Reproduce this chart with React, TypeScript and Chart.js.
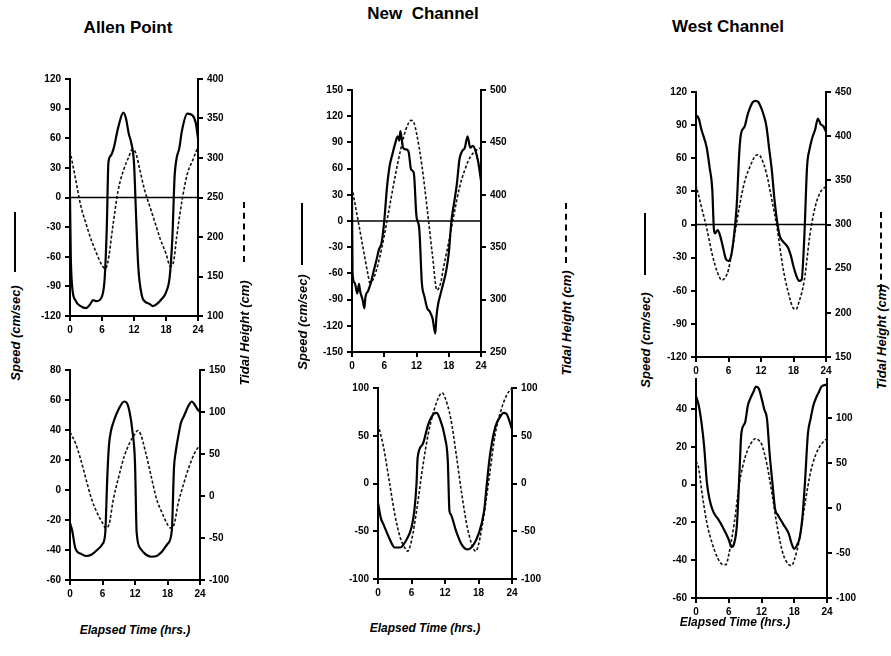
import React, { useEffect, useRef } from 'react';
import { Chart, registerables } from 'chart.js';
Chart.register(...registerables);

// ---------- DATA ----------
const xTicks = [0, 6, 12, 18, 24];
const zeroHours = [0, 24];
const zeroValues = [0, 0];

// Allen Point (top)
const allenTopSpeedHours = [0, 0.15, 0.4, 1, 2, 3, 3.8, 4.3, 5, 6, 6.5, 6.9, 7.2, 7.6, 8.2, 9, 10, 10.5, 11, 11.5, 12, 12.4, 12.8, 13.5, 14, 15, 15.5, 16, 17, 18, 18.7, 19.2, 19.6, 20, 20.5, 21, 22, 23, 23.6, 24];
const allenTopSpeed = [0, -60, -90, -104, -110, -112, -108, -104, -105, -100, -82, -30, 35, 42, 50, 70, 86, 80, 65, 55, 35, -20, -70, -100, -105, -108, -110, -109, -104, -96, -80, -40, 20, 40, 50, 68, 85, 83, 75, 60];
const allenTopTideHours = [0, 1, 2, 3, 4, 5, 6, 6.6, 7.1, 8, 9, 10, 11, 11.7, 12.3, 13, 14, 15, 16, 17, 18, 18.8, 19.4, 20, 21, 22, 23, 24];
const allenTopTide = [309, 275, 240, 217, 196, 179, 164, 160, 168, 212, 258, 284, 301, 311, 307, 288, 259, 238, 217, 196, 179, 163, 168, 200, 246, 280, 297, 314];

// Allen Point (bottom)
const allenBotSpeedHours = [0, 0.4, 1, 2, 3, 4, 5, 6, 6.5, 6.9, 7.2, 7.6, 8, 9, 10, 10.5, 11, 11.5, 12, 12.3, 13, 14, 15, 16, 17, 18, 18.8, 19.2, 19.5, 20, 20.5, 21, 22, 22.5, 23, 23.5, 24];
const allenBotSpeed = [-22, -27, -39, -42.5, -44, -43, -40, -36, -29, 10, 30, 40, 45, 54, 59, 58, 52, 40, 18, -28, -39, -43, -44.5, -44, -41, -36, -27, 15, 25, 36, 45, 49, 57, 59, 57, 54, 52];
const allenBotTideHours = [0, 1, 2, 3, 4, 5, 6, 6.6, 7.2, 8, 9, 10, 11, 12, 12.5, 13, 14, 15, 16, 17, 18, 18.5, 19.1, 20, 21, 22, 23, 24];
const allenBotTide = [76, 63, 43, 19, -4, -20, -32, -38, -34, -4, 23, 47, 63, 74, 78, 74, 51, 23, -4, -20, -34, -38, -36, -8, 15, 35, 51, 61];

// New Channel (top)
const newTopSpeedHours = [0, 0.1, 0.5, 1, 1.3, 1.5, 2, 2.3, 2.5, 3, 3.5, 4, 4.5, 5, 5.5, 6, 6.5, 7, 7.5, 8, 8.5, 8.8, 9, 9.5, 10, 10.5, 11, 11.5, 12, 12.5, 13, 13.5, 14, 14.5, 15, 15.5, 15.7, 16, 16.5, 17, 17.5, 18, 18.5, 19, 19.5, 20, 20.5, 21, 21.5, 22, 22.5, 23, 23.5, 24];
const newTopSpeed = [30, -60, -71, -83, -72, -80, -91, -100, -87, -80, -71, -58, -46, -33, -25, 0, 38, 63, 76, 88, 97, 92, 103, 84, 82, 80, 59, 55, 5, -8, -71, -87, -100, -104, -112, -129, -110, -96, -83, -71, -58, -37, 0, 21, 42, 71, 80, 84, 97, 84, 86, 80, 67, 46];
const newTopTideHours = [0, 1, 2, 3, 3.3, 4, 5, 6, 7, 8, 9, 10, 11, 11.5, 12, 13, 14, 15, 15.8, 16.5, 17, 18, 19, 20, 21, 22, 23, 24];
const newTopTide = [407, 379, 351, 323, 316, 320, 337, 361, 389, 417, 442, 462, 471, 469, 459, 428, 386, 341, 309, 316, 330, 355, 382, 407, 424, 436, 442, 445];

// New Channel (bottom)
const newBotSpeedHours = [0, 0.5, 1, 2, 3, 4, 5, 6, 6.5, 6.9, 7.1, 8, 9, 10, 10.5, 11, 12, 12.5, 12.8, 13, 14, 15, 16, 17, 18, 19, 19.5, 20, 21, 22, 22.5, 23, 24];
const newBotSpeed = [-20, -36, -43, -57, -67, -67, -60, -46, -29, 0, 27, 41, 62, 73, 74, 69, 48, 24, -29, -32, -50, -64, -69, -65, -53, -29, 0, 27, 59, 71, 74, 73, 57];
const newBotTideHours = [0, 1, 2, 3, 4, 5, 5.3, 6, 7, 8, 9, 10, 11, 11.5, 12, 13, 14, 15, 16, 17, 17.5, 18, 19, 20, 21, 22, 23, 24];
const newBotTide = [62, 38, 3, -32, -57, -69, -71, -60, -25, 17, 52, 76, 92, 95, 90, 69, 31, -11, -46, -67, -71, -64, -32, 10, 52, 76, 92, 100];

// West Channel (top)
const westTopSpeedHours = [0, 0.5, 1, 2, 2.5, 3, 3.3, 3.5, 4, 4.5, 5, 5.5, 6, 6.5, 7, 7.5, 8, 8.3, 9, 9.5, 10, 10.5, 11, 11.5, 12, 12.5, 13, 13.5, 14, 14.5, 15, 15.5, 16, 17, 17.5, 18, 18.5, 19, 19.5, 20, 20.5, 21, 21.5, 22, 22.5, 23, 23.5, 24];
const westTopSpeed = [99, 96, 86, 69, 52, 32, -4, -8, -5, -11, -21, -31, -33, -28, -11, 16, 66, 82, 89, 99, 106, 111, 112, 111, 106, 99, 89, 69, 49, 22, 2, -11, -15, -21, -28, -38, -46, -51, -50, -11, 52, 69, 79, 86, 96, 91, 89, 84];
const westTopTideHours = [0, 1, 2, 3, 4, 4.8, 5.5, 6, 7, 8, 9, 10, 11, 11.5, 12, 13, 14, 15, 16, 17, 18, 18.5, 19, 20, 21, 22, 23, 24];
const westTopTide = [345, 320, 295, 266, 245, 237, 241, 249, 283, 320, 349, 366, 378, 379, 376, 358, 328, 295, 253, 224, 205, 204, 212, 237, 287, 320, 337, 343];

// West Channel (bottom)
const westBotSpeedHours = [0, 0.5, 1, 1.5, 2, 2.5, 3, 3.5, 4, 5, 6, 6.5, 7, 7.5, 8, 8.3, 9, 9.5, 10, 10.5, 11, 11.5, 12, 12.5, 13, 13.5, 14, 14.5, 15, 16, 17, 17.5, 18, 18.5, 19, 19.5, 20, 20.5, 21, 21.5, 22, 22.5, 23, 24];
const westBotSpeed = [47, 42, 33, 20, 1, -8, -13, -16, -18, -23, -29, -33, -31, -21, 9, 27, 33, 42, 46, 49, 52, 51, 46, 40, 35, 16, 1, -13, -16, -21, -26, -31, -34, -32, -28, -17, 3, 27, 35, 42, 46, 49, 52, 53];
const westBotTideHours = [0, 0.5, 1, 2, 3, 4, 5, 5.5, 6, 7, 8, 9, 10, 11, 11.5, 12, 13, 14, 15, 16, 17, 17.5, 18, 19, 20, 21, 22, 23, 24];
const westBotTide = [52, 44, 21, -17, -40, -56, -63, -63, -52, -17, 29, 56, 71, 77, 75, 71, 48, 13, -25, -52, -63, -64, -58, -33, 6, 40, 60, 71, 77];

// ---------- LAYOUT ----------
const L = 40, R = 40, T = 8, B = 22;
const FONT = '"Liberation Sans", Arial, sans-serif';

type Panel = {
  rect: { l: number; t: number; r: number; b: number };
  sH: number[]; sV: number[]; tH: number[]; tV: number[];
  yMin: number; yMax: number; yStep: number;
  y2Min: number; y2Max: number; y2Step: number;
  zero: boolean;
};

const panels: Panel[] = [
  { rect: { l: 70, t: 77, r: 198, b: 316 }, sH: allenTopSpeedHours, sV: allenTopSpeed, tH: allenTopTideHours, tV: allenTopTide, yMin: -120, yMax: 120, yStep: 30, y2Min: 100, y2Max: 400, y2Step: 50, zero: true },
  { rect: { l: 70, t: 368, r: 200, b: 580 }, sH: allenBotSpeedHours, sV: allenBotSpeed, tH: allenBotTideHours, tV: allenBotTide, yMin: -60, yMax: 80, yStep: 20, y2Min: -100, y2Max: 150, y2Step: 50, zero: false },
  { rect: { l: 352, t: 88, r: 481, b: 352 }, sH: newTopSpeedHours, sV: newTopSpeed, tH: newTopTideHours, tV: newTopTide, yMin: -150, yMax: 150, yStep: 30, y2Min: 250, y2Max: 500, y2Step: 50, zero: true },
  { rect: { l: 378, t: 386, r: 512, b: 579 }, sH: newBotSpeedHours, sV: newBotSpeed, tH: newBotTideHours, tV: newBotTide, yMin: -100, yMax: 100, yStep: 50, y2Min: -100, y2Max: 100, y2Step: 50, zero: false },
  { rect: { l: 696, t: 90, r: 826, b: 357 }, sH: westTopSpeedHours, sV: westTopSpeed, tH: westTopTideHours, tV: westTopTide, yMin: -120, yMax: 120, yStep: 30, y2Min: 150, y2Max: 450, y2Step: 50, zero: true },
  { rect: { l: 696, t: 377, r: 827, b: 598 }, sH: westBotSpeedHours, sV: westBotSpeed, tH: westBotTideHours, tV: westBotTide, yMin: -60, yMax: 56, yStep: 20, y2Min: -100, y2Max: 143, y2Step: 50, zero: false },
];

const zip = (xs: number[], ys: number[]) => xs.map((x, i) => ({ x, y: ys[i] }));

function PanelChart({ p }: { p: Panel }) {
  const ref = useRef<HTMLCanvasElement>(null);
  const w = p.rect.r - p.rect.l + L + R;
  const h = p.rect.b - p.rect.t + T + B;
  useEffect(() => {
    if (!ref.current) return;
    const tickFont = { family: FONT, size: 10, weight: 'bold' as const };
    const axisCommon = {
      grid: { drawOnChartArea: false, drawTicks: true, tickLength: 5, color: '#000', lineWidth: 2 },
      border: { display: true, color: '#000', width: 2 },
    };
    const datasets: any[] = [
      { data: zip(p.sH, p.sV), yAxisID: 'y', borderColor: '#000', borderWidth: 2.2, pointRadius: 0, cubicInterpolationMode: 'monotone', fill: false },
      { data: zip(p.tH, p.tV), yAxisID: 'y2', borderColor: '#111', borderWidth: 1.6, borderDash: [3, 2], pointRadius: 0, cubicInterpolationMode: 'monotone', fill: false },
    ];
    if (p.zero) {
      datasets.push({ data: zip(zeroHours, zeroValues), yAxisID: 'y', borderColor: '#000', borderWidth: 1.5, pointRadius: 0, fill: false });
    }
    const chart = new Chart(ref.current, {
      type: 'line',
      data: { datasets },
      options: {
        animation: false,
        responsive: false,
        maintainAspectRatio: false,
        events: [],
        layout: { padding: { top: T, left: 0, right: 0, bottom: 0 } },
        plugins: { legend: { display: false }, tooltip: { enabled: false } },
        scales: {
          x: {
            type: 'linear', min: 0, max: 24,
            afterBuildTicks: (s: any) => { s.ticks = xTicks.map((v) => ({ value: v })); },
            ticks: { font: tickFont, color: '#000', padding: 3, maxRotation: 0 },
            afterFit: (s: any) => { s.height = B; },
            ...axisCommon,
          },
          y: {
            type: 'linear', position: 'left', min: p.yMin, max: p.yMax,
            ticks: { stepSize: p.yStep, font: tickFont, color: '#000', padding: 4, includeBounds: false },
            afterFit: (s: any) => { s.width = L; },
            ...axisCommon,
          },
          y2: {
            type: 'linear', position: 'right', min: p.y2Min, max: p.y2Max,
            ticks: { stepSize: p.y2Step, font: tickFont, color: '#000', padding: 4, includeBounds: false },
            afterFit: (s: any) => { s.width = R; },
            ...axisCommon,
          },
        },
      } as any,
    });
    return () => chart.destroy();
  }, [p]);
  return (
    <canvas
      ref={ref}
      width={w}
      height={h}
      style={{ position: 'absolute', left: p.rect.l - L, top: p.rect.t - T, width: w, height: h }}
    />
  );
}

const titles = [
  { text: 'Allen Point', x: 128, y: 28 },
  { text: 'New  Channel', x: 423, y: 14 },
  { text: 'West Channel', x: 728, y: 27 },
];
const xTitles = [
  { text: 'Elapsed Time (hrs.)', x: 135, y: 630 },
  { text: 'Elapsed Time (hrs.)', x: 425, y: 628 },
  { text: 'Elapsed Time (hrs.)', x: 735, y: 622 },
];
const sideLabels = [
  { text: 'Speed (cm/sec)', x: 15, y: 333, seg: { y1: 212, y2: 272 }, dashed: false },
  { text: 'Tidal Height (cm)', x: 244, y: 333, seg: { y1: 202, y2: 262 }, dashed: true },
  { text: 'Speed (cm/sec)', x: 302, y: 322, seg: { y1: 203, y2: 265 }, dashed: false },
  { text: 'Tidal Height (cm)', x: 566, y: 323, seg: { y1: 203, y2: 263 }, dashed: true },
  { text: 'Speed (cm/sec)', x: 645, y: 340, seg: { y1: 213, y2: 275 }, dashed: false },
  { text: 'Tidal Height (cm)', x: 881, y: 337, seg: { y1: 212, y2: 290 }, dashed: true },
];

export default function App() {
  return (
    <div style={{ position: 'absolute', left: 0, top: 0, width: 891, height: 656, background: '#fff', overflow: 'hidden', fontFamily: FONT }}>
      {panels.map((p, i) => <PanelChart key={i} p={p} />)}
      {titles.map((t, i) => (
        <div key={'t' + i} style={{ position: 'absolute', left: t.x, top: t.y, transform: 'translate(-50%,-50%)', fontWeight: 'bold', fontSize: 17, whiteSpace: 'pre', color: '#000' }}>{t.text}</div>
      ))}
      {xTitles.map((t, i) => (
        <div key={'x' + i} style={{ position: 'absolute', left: t.x, top: t.y, transform: 'translate(-50%,-50%)', fontWeight: 'bold', fontStyle: 'italic', fontSize: 12, whiteSpace: 'nowrap', color: '#000' }}>{t.text}</div>
      ))}
      {sideLabels.map((s, i) => (
        <React.Fragment key={'s' + i}>
          <div style={{ position: 'absolute', left: s.x, top: s.y, transform: 'translate(-50%,-50%) rotate(-90deg)', fontWeight: 'bold', fontStyle: 'italic', fontSize: 13, whiteSpace: 'nowrap', color: '#000' }}>{s.text}</div>
          <div style={{ position: 'absolute', left: s.x - 1, top: s.seg.y1, height: s.seg.y2 - s.seg.y1, width: 0, borderLeft: s.dashed ? '2px dashed #000' : '2.5px solid #000' }} />
        </React.Fragment>
      ))}
    </div>
  );
}
